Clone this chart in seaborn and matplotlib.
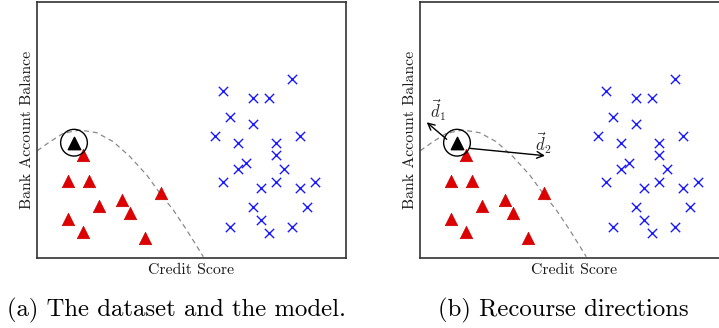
import numpy as np
import pandas as pd
import matplotlib
matplotlib.use('Agg')
import matplotlib.pyplot as plt
import seaborn as sns

sns.set_theme(style='white')
plt.rcParams['font.family'] = ['cmr10', 'DejaVu Serif']
plt.rcParams['mathtext.fontset'] = 'cm'
plt.rcParams['axes.unicode_minus'] = False

# data in plot units (x: credit score, y: bank balance)
red_x = [46.3, 30.7, 52.3, 62.0, 85.0, 92.7, 123.7, 30.7, 46.3, 107.7]
red_y = [103.0, 77.0, 77.0, 52.0, 58.0, 44.7, 64.7, 39.0, 26.3, 19.7]

blue_x = [255.0, 185.7, 216.3, 232.0, 193.0, 216.3, 178.0, 262.7, 200.7, 239.3,
          239.3, 208.7, 200.7, 247.3, 185.7, 239.3, 278.0, 224.3, 262.7, 216.3,
          270.3, 224.3, 193.0, 255.0, 232.0]
blue_y = [179.3, 166.7, 160.0, 160.0, 140.7, 134.3, 121.7, 121.7, 114.7, 114.7,
          102.7, 95.3, 89.3, 89.3, 76.3, 76.3, 76.3, 70.0, 70.0, 50.7,
          50.7, 38.0, 31.3, 31.3, 25.3]

query_x, query_y = 37.0, 115.3

boundary_x = [0.3, 13.0, 26.3, 43.0, 59.7, 76.3, 93.0, 109.7, 123.0, 136.3, 149.7, 166.3]
boundary_y = [107.3, 116.3, 124.7, 128.0, 125.3, 116.3, 101.3, 83.0, 64.7, 48.0, 28.0, 1.3]

# recourse directions (start, end) for panel b
d1 = [(26.7, 118.7), (6.7, 135.7)]
d2 = [(49.3, 109.7), (125.0, 102.3)]

captions = ['(a) The dataset and the model.', '(b) Recourse directions']

W, H = 719, 328
fig = plt.figure(figsize=(W / 100, H / 100), dpi=100)
ax_w, ax_h = 309, 256
lefts = [37, 420]
axes = []
for left in lefts:
    ax = fig.add_axes([left / W, (H - 258) / H, ax_w / W, ax_h / H])
    axes.append(ax)

red = pd.DataFrame({'x': red_x, 'y': red_y})
blue = pd.DataFrame({'x': blue_x, 'y': blue_y})
bound = pd.DataFrame({'x': boundary_x, 'y': boundary_y})

for ax in axes:
    sns.lineplot(data=bound, x='x', y='y', sort=False, ax=ax, color='#8a8a8a',
                 linewidth=0.9, dashes=False, linestyle=(0, (4, 3)))
    sns.scatterplot(data=red, x='x', y='y', marker='^', s=80, color='#dd0000',
                    edgecolor='#cc0000', linewidth=0.5, ax=ax, zorder=3)
    sns.scatterplot(data=blue, x='x', y='y', marker='x', s=45, color='#1a1aff',
                    linewidth=1.0, ax=ax, zorder=3)
    ax.scatter([query_x], [query_y], marker='^', s=80, color='black', zorder=4)
    ax.scatter([query_x], [query_y], marker='o', s=370, facecolors='none',
               edgecolors='black', linewidths=1.0, zorder=4)
    ax.set_xlim(0, ax_w)
    ax.set_ylim(0, ax_h)
    ax.set_xticks([])
    ax.set_yticks([])
    ax.set_xlabel('Credit Score', fontsize=11.4, labelpad=4, color='#1a1a1a')
    ax.set_ylabel('Bank Account Balance', fontsize=11.4, labelpad=2, color='#1a1a1a')
    for sp in ax.spines.values():
        sp.set_visible(True)
        sp.set_color('#333333')
        sp.set_linewidth(1.2)

ax = axes[1]
for (s, e) in (d1, d2):
    ax.annotate('', xy=e, xytext=s,
                arrowprops=dict(arrowstyle='->', color='black', lw=1.0,
                                shrinkA=0, shrinkB=0), zorder=5)
ax.text(18.3, 148.0, r'$\vec{d}_1$', fontsize=12, ha='center', va='center')
ax.text(123.3, 114.7, r'$\vec{d}_2$', fontsize=12, ha='center', va='center')

fig.text(176 / W, 1 - 310 / H, captions[0], fontsize=17.8, ha='center', va='center', color='black')
fig.text(563 / W, 1 - 310 / H, captions[1], fontsize=17.8, ha='center', va='center', color='black')

fig.savefig('out.png', dpi=100)
